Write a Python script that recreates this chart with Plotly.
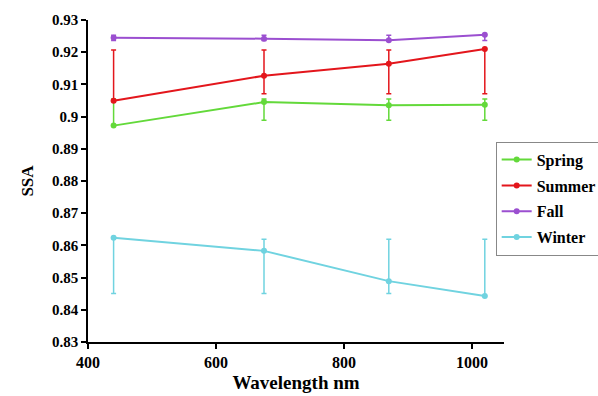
import plotly.graph_objects as go

# Wavelengths (nm) of the retrieval channels
wavelength = [440, 675, 870, 1020]

# Seasonal single scattering albedo
ssa_spring = [0.8972, 0.9045, 0.9035, 0.9037]
ssa_summer = [0.9049, 0.9127, 0.9164, 0.9210]
ssa_fall = [0.9245, 0.9242, 0.9237, 0.9254]
ssa_winter = [0.8624, 0.8583, 0.8489, 0.8443]

# Upper / lower bounds of the error bars
upper_spring = [0.9055, 0.9055, 0.9055, 0.9055]
lower_spring = [0.8989, 0.8989, 0.8989, 0.8989]
upper_summer = [0.9207, 0.9207, 0.9207, 0.9207]
lower_summer = [0.9071, 0.9071, 0.9071, 0.9071]
upper_fall = [0.9253, 0.9253, 0.9253, 0.9253]
lower_fall = [0.9236, 0.9236, 0.9236, 0.9236]
upper_winter = [0.8619, 0.8619, 0.8619, 0.8619]
lower_winter = [0.8451, 0.8451, 0.8451, 0.8451]

seasons = ["Spring", "Summer", "Fall", "Winter"]
colors = ["#63d93a", "#e3161c", "#9b4fd0", "#70d3e0"]

series = [
    (ssa_spring, upper_spring, lower_spring),
    (ssa_summer, upper_summer, lower_summer),
    (ssa_fall, upper_fall, lower_fall),
    (ssa_winter, upper_winter, lower_winter),
]

serif = "Liberation Serif"

fig = go.Figure()
for name, color, (vals, up, lo) in zip(seasons, colors, series):
    plus = [max(u - v, 0) for u, v in zip(up, vals)]
    minus = [max(v - l, 0) for l, v in zip(lo, vals)]
    fig.add_trace(go.Scatter(
        x=wavelength, y=vals, name=name, legendgroup=name,
        mode="lines+markers",
        line=dict(color=color, width=2),
        marker=dict(color=color, size=6),
        error_y=dict(type="data", symmetric=False, array=plus, arrayminus=minus,
                     color=color, thickness=1.5, width=2.5),
    ))

fig.update_layout(
    width=598, height=396,
    margin=dict(l=88, r=94, t=20, b=54, autoexpand=False),
    paper_bgcolor="white", plot_bgcolor="white",
    font=dict(family=serif, color="black"),
    showlegend=True,
    legend=dict(
        x=0.98, y=0.622, xanchor="left", yanchor="top",
        bgcolor="white", bordercolor="#888888", borderwidth=1,
        font=dict(family=serif, size=16, color="black", weight="bold"),
        tracegroupgap=2, itemwidth=30,
    ),
    xaxis=dict(
        range=[400, 1050], tickvals=[400, 600, 800, 1000],
        showgrid=False, zeroline=False,
        showline=True, linecolor="black", linewidth=1.5,
        ticks="outside", ticklen=5, tickwidth=1.5, tickcolor="black",
        tickfont=dict(family=serif, size=16, weight="bold"),
        title=dict(text="Wavelength nm", font=dict(family=serif, size=19, weight="bold"),
                   standoff=6),
    ),
    yaxis=dict(
        range=[0.83, 0.93], dtick=0.01, tick0=0.83,
        showgrid=False, zeroline=False,
        showline=True, linecolor="black", linewidth=1.5,
        ticks="outside", ticklen=5, tickwidth=1.5, tickcolor="black",
        tickfont=dict(family=serif, size=15, weight="bold"),
        title=dict(text="SSA", font=dict(family=serif, size=17, weight="bold"),
                   standoff=14),
    ),
)

fig.write_html("out.html")
